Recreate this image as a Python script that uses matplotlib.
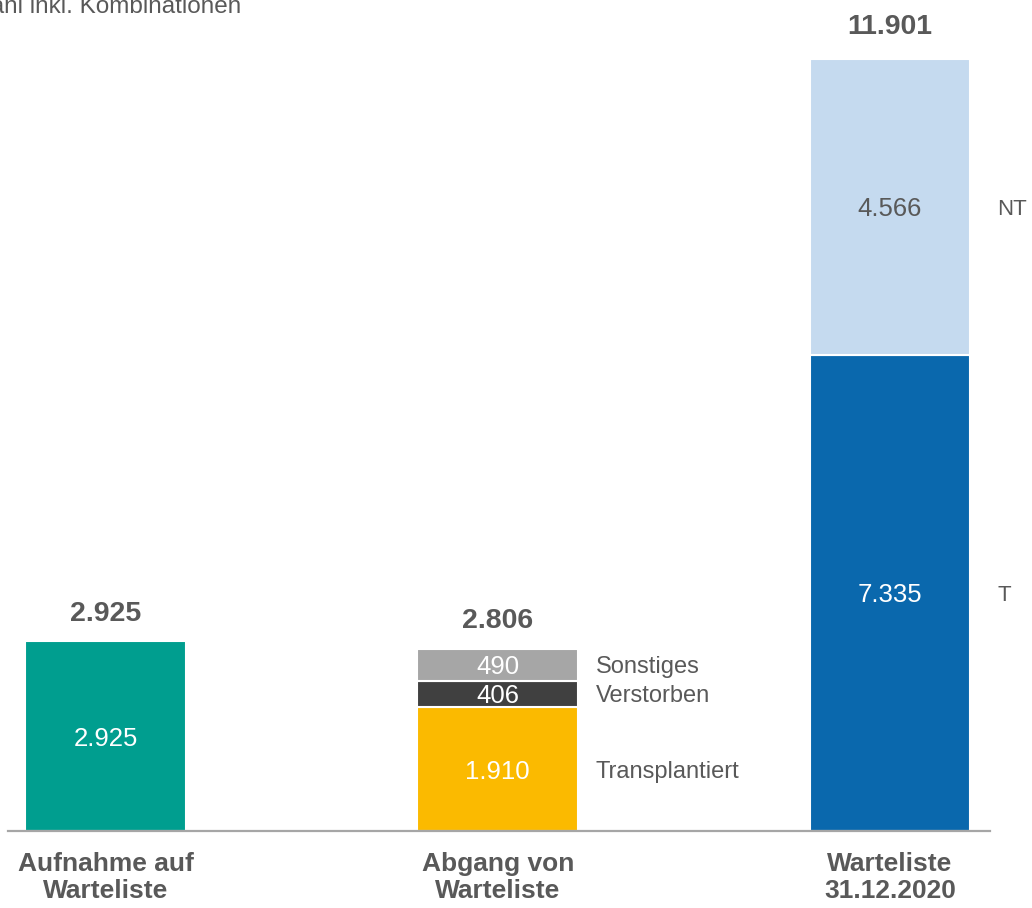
"""
Warteliste 2020 - Zu- und Abgaenge
"""
import matplotlib.pyplot as plt

plt.rcParams['font.family'] = ['Liberation Sans', 'DejaVu Sans']

# Daten
kategorien = ['Aufnahme auf\nWarteliste', 'Abgang von\nWarteliste', 'Warteliste\n31.12.2020']
aufnahme = [2925]
abgang_namen = ['Transplantiert', 'Verstorben', 'Sonstiges']
abgang_werte = [1910, 406, 490]
warteliste_namen = ['T', 'NT']
warteliste_werte = [7335, 4566]

def fmt(v):
    return f'{v:,}'.replace(',', '.')

TXT = '#595959'
breite = 0.41
FS_IN = 18.5     # Werte in den Balken
FS_SUM = 20.5    # Summen ueber den Balken
FS_SEITE = 17    # Beschriftung rechts

fig = plt.figure(figsize=(10.32, 9.08), dpi=100)
ax = fig.add_axes([8 / 1032, 77 / 908, 982 / 1032, 831 / 908])

# Balken 1
ax.bar(0, aufnahme[0], width=breite, color='#009e8f', edgecolor='white', linewidth=1.5)
ax.text(0, aufnahme[0] / 2, fmt(aufnahme[0]), ha='center', va='center_baseline',
        color='white', fontsize=FS_IN)
ax.text(0, aufnahme[0] + 470, fmt(aufnahme[0]), ha='center', va='center_baseline',
        color=TXT, fontsize=FS_SUM, fontweight='bold')

# Balken 2 (gestapelt)
farben2 = ['#fbba00', '#404040', '#a6a6a6']
unten = 0
for name, wert, farbe in zip(abgang_namen, abgang_werte, farben2):
    ax.bar(1, wert, bottom=unten, width=breite, color=farbe, edgecolor='white', linewidth=1.5)
    ax.text(1, unten + wert / 2, fmt(wert), ha='center', va='center_baseline',
            color='white', fontsize=FS_IN)
    ax.text(1 + 0.25, unten + wert / 2, name, ha='left', va='center_baseline',
            color=TXT, fontsize=FS_SEITE)
    unten += wert
ax.text(1, unten + 480, fmt(unten), ha='center', va='center_baseline',
        color=TXT, fontsize=FS_SUM, fontweight='bold')

# Balken 3 (gestapelt)
farben3 = ['#0a68ad', '#c5daef']
textfarben3 = ['white', TXT]
unten = 0
for name, wert, farbe, tf in zip(warteliste_namen, warteliste_werte, farben3, textfarben3):
    ax.bar(2, wert, bottom=unten, width=breite, color=farbe, edgecolor='white', linewidth=1.5)
    ax.text(2, unten + wert / 2, fmt(wert), ha='center', va='center_baseline',
            color=tf, fontsize=FS_IN)
    ax.text(2 + 0.273, unten + wert / 2, name, ha='left', va='center_baseline',
            color=TXT, fontsize=16, clip_on=False)
    unten += wert
ax.text(2, unten + 530, fmt(unten), ha='center', va='center_baseline',
        color=TXT, fontsize=FS_SUM, fontweight='bold')

# Achsen
ax.set_xlim(-0.2486, 2.255)
ax.set_ylim(0, 12804)
ax.set_xticks([0, 1, 2])
ax.set_xticklabels(kategorien, fontsize=19, fontweight='bold', color=TXT, linespacing=1.15)
ax.tick_params(axis='x', length=0, pad=15)
ax.set_yticks([])
for s in ['top', 'right', 'left']:
    ax.spines[s].set_visible(False)
ax.spines['bottom'].set_color('#a6a6a6')
ax.spines['bottom'].set_linewidth(1.6)

fig.text(241 / 1032, 1 - 13 / 908, 'Anzahl inkl. Kombinationen', ha='right', va='baseline',
         color=TXT, fontsize=17.5)

fig.savefig('out.png', dpi=100)
